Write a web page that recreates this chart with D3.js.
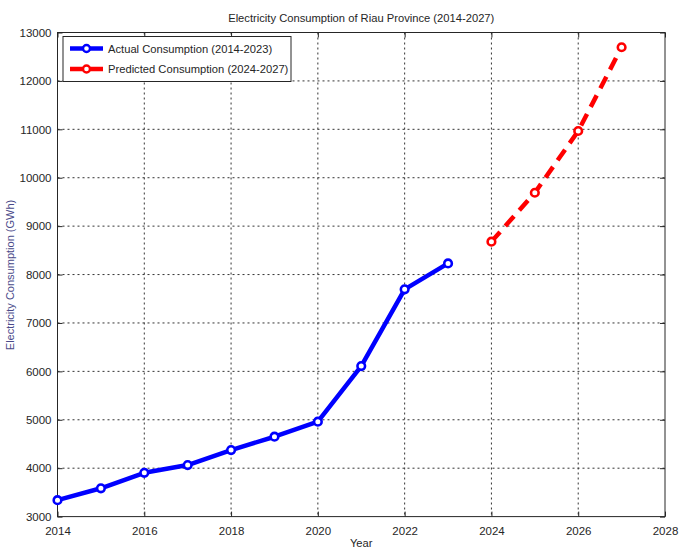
<!DOCTYPE html>
<html><head><meta charset="utf-8">
<script src="https://cdn.jsdelivr.net/npm/d3@7"></script>
<style>body{margin:0;background:#fff}svg{display:block}text{font-family:"Liberation Sans",Arial,sans-serif}</style>
</head><body><svg id="c" width="686" height="549"></svg>
<script>
const actualYears = [2014,2015,2016,2017,2018,2019,2020,2021,2022,2023];
const actualValues = [3340,3585,3905,4065,4375,4650,4960,6110,7695,8230];
const predYears = [2024,2025,2026,2027];
const predValues = [8680,9690,10965,12695];
const xTicks = [2014,2016,2018,2020,2022,2024,2026,2028];
const yTicks = [3000,4000,5000,6000,7000,8000,9000,10000,11000,12000,13000];
const legendLabels = ["Actual Consumption (2014-2023)","Predicted Consumption (2024-2027)"];

const svg = d3.select("#c");
const L=57.5, R=665, T=32.5, B=516.6;
const x = d3.scaleLinear().domain([2014,2028]).range([L,R]);
const y = d3.scaleLinear().domain([3000,13000]).range([B,T]);
const ink = "#262626";

// grid
const g = svg.append("g");
xTicks.slice(1,-1).forEach(v=>g.append("line").attr("x1",x(v)).attr("x2",x(v)).attr("y1",T).attr("y2",B)
  .attr("stroke","#333").attr("stroke-width",1).attr("stroke-dasharray","2,3"));
yTicks.slice(1,-1).forEach(v=>g.append("line").attr("x1",L).attr("x2",R).attr("y1",y(v)).attr("y2",y(v))
  .attr("stroke","#333").attr("stroke-width",1).attr("stroke-dasharray","2,3"));

// axes
const xa = svg.append("g").attr("transform",`translate(0,${B})`)
  .call(d3.axisBottom(x).tickValues(xTicks).tickFormat(d3.format("d")).tickSizeInner(-5).tickSizeOuter(0).tickPadding(10));
const xt = svg.append("g").attr("transform",`translate(0,${T})`)
  .call(d3.axisTop(x).tickValues(xTicks).tickFormat("").tickSizeInner(-5).tickSizeOuter(0));
const ya = svg.append("g").attr("transform",`translate(${L},0)`)
  .call(d3.axisLeft(y).tickValues(yTicks).tickFormat(d3.format("d")).tickSizeInner(-5).tickSizeOuter(0).tickPadding(6));
const yr = svg.append("g").attr("transform",`translate(${R},0)`)
  .call(d3.axisRight(y).tickValues(yTicks).tickFormat("").tickSizeInner(-5).tickSizeOuter(0));
[xa,xt,ya,yr].forEach(a=>{a.select(".domain").remove();a.selectAll("line").attr("stroke",ink);
  a.selectAll("text").attr("fill",ink).style("font-size","11.5px").style("font-family",'"Liberation Sans",Arial,sans-serif');});
svg.append("rect").attr("x",L).attr("y",T).attr("width",R-L).attr("height",B-T).attr("fill","none").attr("stroke",ink).attr("stroke-width",1);

// series
const line = d3.line().x(d=>x(d[0])).y(d=>y(d[1]));
const act = actualYears.map((v,i)=>[v,actualValues[i]]);
const pred = predYears.map((v,i)=>[v,predValues[i]]);
svg.append("path").datum(act).attr("d",line).attr("fill","none").attr("stroke","#0000ff").attr("stroke-width",4.5).attr("stroke-linejoin","round");
svg.append("path").datum(pred).attr("d",line).attr("fill","none").attr("stroke","#ff0000").attr("stroke-width",4.5).attr("stroke-dasharray","13,8");
svg.selectAll(".ma").data(act).join("circle").attr("cx",d=>x(d[0])).attr("cy",d=>y(d[1])).attr("r",3.8)
  .attr("fill","#fff").attr("stroke","#0000ff").attr("stroke-width",2.6);
svg.selectAll(".mp").data(pred).join("circle").attr("cx",d=>x(d[0])).attr("cy",d=>y(d[1])).attr("r",3.8)
  .attr("fill","#fff").attr("stroke","#ff0000").attr("stroke-width",2.6);

// legend
const lg = svg.append("g");
lg.append("rect").attr("x",63).attr("y",36.5).attr("width",228).attr("height",45).attr("fill","#fff").attr("stroke",ink).attr("stroke-width",1);
const cols=["#0000ff","#ff0000"];
legendLabels.forEach((t,i)=>{
  const yy = 48.5+i*20.5;
  lg.append("line").attr("x1",70).attr("x2",103).attr("y1",yy).attr("y2",yy).attr("stroke",cols[i]).attr("stroke-width",4.5);
  lg.append("circle").attr("cx",86.5).attr("cy",yy).attr("r",3.5).attr("fill","#fff").attr("stroke",cols[i]).attr("stroke-width",2.4);
  lg.append("text").attr("x",108).attr("y",yy+4.3).attr("fill",ink).style("font-size","11.2px").text(t);
});

// titles
svg.append("text").attr("x",(L+R)/2).attr("y",22).attr("text-anchor","middle").attr("fill",ink).style("font-size","11.2px")
  .text("Electricity Consumption of Riau Province (2014-2027)");
svg.append("text").attr("x",(L+R)/2).attr("y",547).attr("text-anchor","middle").attr("fill",ink).style("font-size","11.2px").text("Year");
svg.append("text").attr("transform","translate(14,275) rotate(-90)").attr("text-anchor","middle").attr("fill","#4a4a8a")
  .style("font-size","11px").text("Electricity Consumption (GWh)");
</script></body></html>
